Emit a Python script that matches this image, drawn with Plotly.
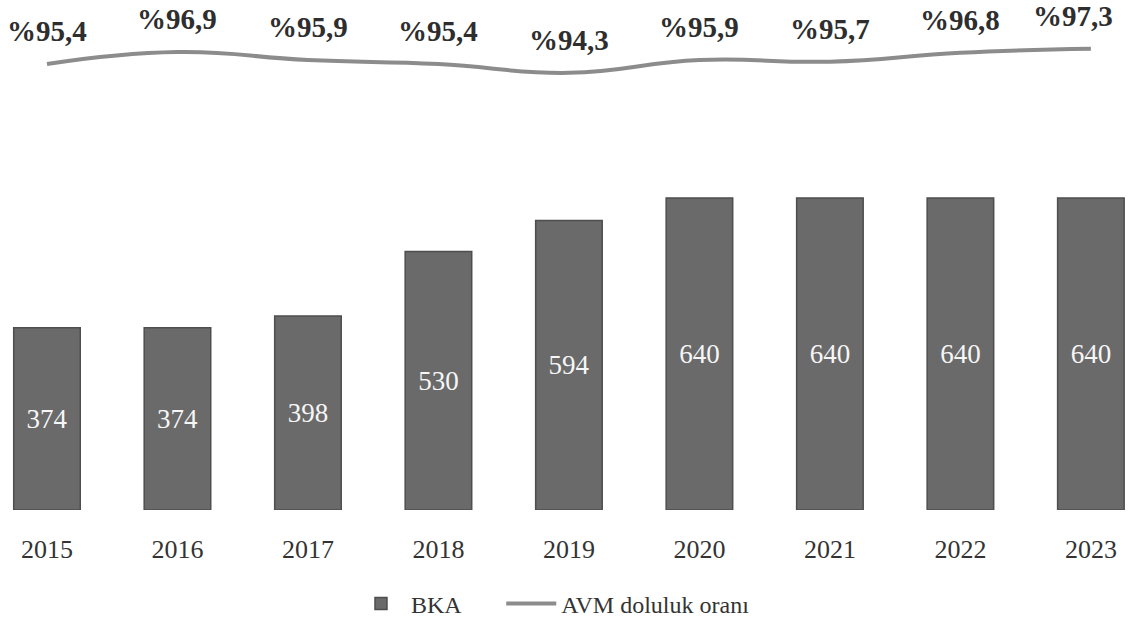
import plotly.graph_objects as go

years = ["2015", "2016", "2017", "2018", "2019", "2020", "2021", "2022", "2023"]
bka = [374, 374, 398, 530, 594, 640, 640, 640, 640]
doluluk = [95.4, 96.9, 95.9, 95.4, 94.3, 95.9, 95.7, 96.8, 97.3]
doluluk_labels = ["%95,4", "%96,9", "%95,9", "%95,4", "%94,3", "%95,9", "%95,7", "%96,8", "%97,3"]

serif = "Liberation Serif, Times New Roman, serif"

fig = go.Figure()
fig.add_trace(go.Bar(
    x=years, y=bka, name="BKA", legend="legend",
    marker=dict(color="#6a6a6a", line=dict(color="#4e4e4e", width=1.5)),
    width=0.51,
    text=[str(v) for v in bka], textposition="inside", insidetextanchor="middle",
    textfont=dict(family=serif, size=27, color="#f6f6f6"),
))
fig.add_trace(go.Scatter(
    x=years, y=doluluk, name="AVM doluluk oranı", yaxis="y2", legend="legend2",
    mode="lines", line=dict(color="#8c8c8c", width=4, shape="spline", smoothing=1.3),
))
n = len(doluluk)
for i, (v, lab) in enumerate(zip(doluluk, doluluk_labels)):
    fig.add_annotation(x=i, y=v, xref="x", yref="y2", text="<b>" + lab + "</b>",
                       showarrow=False, yshift=33, xshift=(-18 if i == n - 1 else 0),
                       font=dict(family=serif, size=29, color="#2e2e2e"),
                       xanchor="center", yanchor="middle")

legend_common = dict(orientation="h", y=-0.184, yanchor="middle", xanchor="left",
                     font=dict(family=serif, size=24, color="#333333"), itemwidth=50,
                     bgcolor="rgba(0,0,0,0)")

fig.update_layout(
    width=1147, height=621,
    margin=dict(l=0, r=0, t=0, b=111, autoexpand=False),
    paper_bgcolor="white", plot_bgcolor="white",
    bargap=0.49,
    showlegend=True,
    legend=dict(x=0.306, **legend_common),
    legend2=dict(x=0.437, **legend_common),
    xaxis=dict(type="category", range=[-0.36, 8.43], showgrid=False, zeroline=False,
               showline=False, ticks="outside", ticklen=16, tickcolor="rgba(0,0,0,0)",
               tickfont=dict(family=serif, size=26, color="#333333"), automargin=False),
    yaxis=dict(range=[0, 1046], visible=False, showgrid=False, zeroline=False),
    yaxis2=dict(range=[39.7, 103.4], overlaying="y", visible=False, showgrid=False,
                zeroline=False),
)

fig.write_html("out.html", config={"displayModeBar": False},
               post_script="document.body.style.margin='0';")
